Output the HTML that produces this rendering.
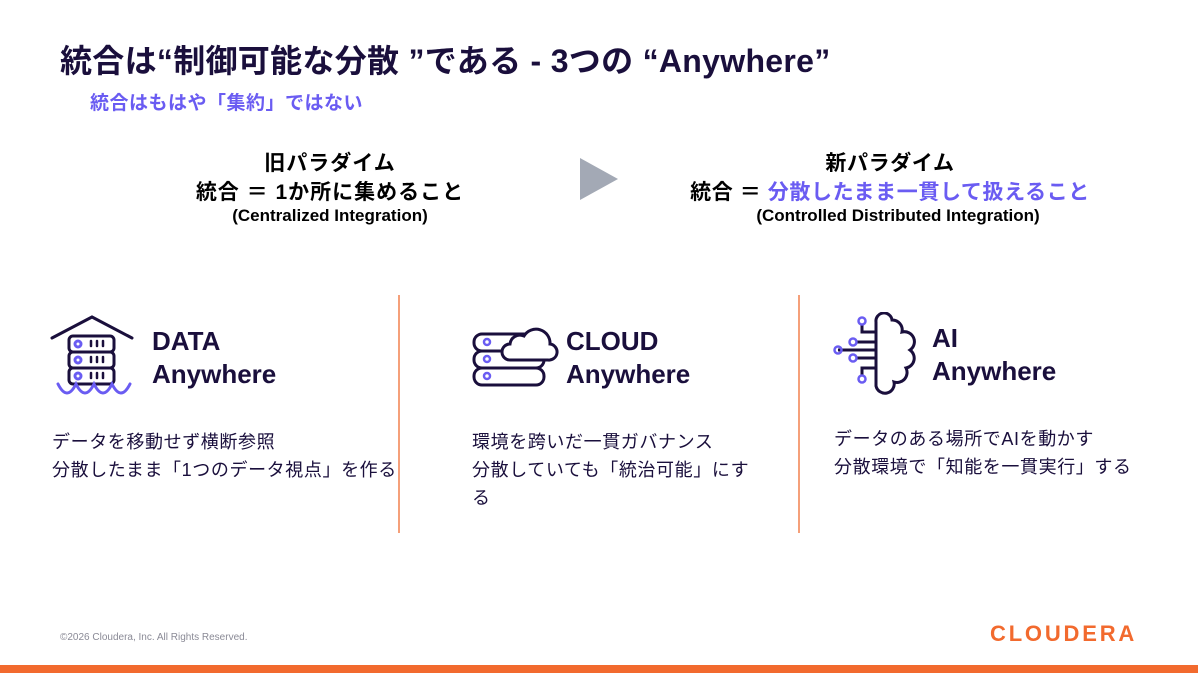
<!DOCTYPE html>
<html><head><meta charset="utf-8"><style>
body{margin:0;width:1198px;height:673px;background:#fff;position:relative;overflow:hidden;font-family:"Liberation Sans","Noto Sans CJK JP",sans-serif;color:#1a0f3c}
.a{position:absolute;white-space:nowrap}
.t{font-size:32px;font-weight:bold;left:60px;top:36px;letter-spacing:0.3px}
.s{font-size:19px;font-weight:bold;color:#6a5cf2;left:90px;top:88px;letter-spacing:0.5px}
.c{text-align:center;font-weight:bold;color:#000}
.h{font-size:26px;font-weight:bold;line-height:33px}
.d{font-size:18px;line-height:28px;color:#1a0f3c;letter-spacing:0.6px}
.v{position:absolute;width:2px;background:#f5a07a;top:295px;height:238px}
</style></head><body>
<div class="a t">統合は“制御可能な分散 ”である - 3つの “Anywhere”</div>
<div class="a s">統合はもはや「集約」ではない</div>
<div class="a c" style="left:130px;width:400px;top:149px;font-size:21px;line-height:29px;letter-spacing:1px">旧パラダイム<br>統合 ＝ 1か所に集めること</div>
<div class="a c" style="left:130px;width:400px;top:206px;font-size:17px">(Centralized Integration)</div>
<svg class="a" style="left:578px;top:156px" width="42" height="46"><polygon points="2,2 40,23 2,44" fill="#a3a9b5"/></svg>
<div class="a c" style="left:640px;width:500px;top:149px;font-size:21px;line-height:29px;letter-spacing:0.6px">新パラダイム<br>統合 ＝ <span style="color:#6a5cf2">分散したまま一貫して扱えること</span></div>
<div class="a c" style="left:648px;width:500px;top:206px;font-size:17px">(Controlled Distributed Integration)</div>
<div class="v" style="left:398px"></div><div class="v" style="left:798px"></div>
<svg class="a" style="left:50px;top:314px" width="85" height="85" fill="none" stroke-width="3" stroke-linecap="round">
<path d="M2,24 L42,3 L82,24" stroke="#1a0f3c"/>
<rect x="19" y="22" width="45" height="16" rx="4" stroke="#1a0f3c"/>
<rect x="19" y="38" width="45" height="16" rx="4" stroke="#1a0f3c"/>
<rect x="19" y="54" width="45" height="16" rx="4" stroke="#1a0f3c"/>
<g stroke="#6a5cf2"><circle cx="28" cy="30" r="3"/><circle cx="28" cy="46" r="3"/><circle cx="28" cy="62" r="3"/></g>
<g stroke="#1a0f3c" stroke-width="2.5"><path d="M41,27v5M47,27v5M53,27v5M41,43v5M47,43v5M53,43v5M41,59v5M47,59v5M53,59v5"/></g>
<path d="M8,70 q9,18 18,0 q9,18 18,0 q9,18 18,0 q9,18 18,0" stroke="#6a5cf2"/>
</svg>
<div class="a h" style="left:152px;top:325px">DATA<br>Anywhere</div>
<svg class="a" style="left:470px;top:318px" width="90" height="75" fill="none" stroke="#1a0f3c" stroke-width="3">
<rect x="4" y="16" width="70" height="17" rx="8"/><rect x="4" y="33" width="70" height="17" rx="8"/><rect x="4" y="50" width="70" height="17" rx="8"/>
<path d="M50,42 h-10 a8,8 0 0 1 0,-16 a10,10 0 0 1 14,-8 a14,14 0 0 1 26,8 a8,8 0 0 1 -2,16z" fill="#fff"/>
<g stroke="#6a5cf2" stroke-width="2.5"><circle cx="17" cy="24" r="3"/><circle cx="17" cy="41" r="3"/><circle cx="17" cy="58" r="3"/></g>
</svg>
<div class="a h" style="left:566px;top:325px">CLOUD<br>Anywhere</div>
<svg class="a" style="left:830px;top:312px" width="95" height="86" fill="none" stroke="#1a0f3c" stroke-width="3">
<path d="M46,10 a8,8 0 0 1 16,-2 a10,10 0 0 1 10,12 a10,10 0 0 1 8,18 a10,10 0 0 1 -4,18 a10,10 0 0 1 -12,14 a9,9 0 0 1 -18,4z"/>
<path d="M46,20 h-14 v-8 M46,30 h-20 M46,38 h-38 M46,46 h-20 M46,56 h-14 v8"/>
<g stroke="#6a5cf2" stroke-width="2.5"><circle cx="32" cy="9" r="3.5"/><circle cx="23" cy="30" r="3.5"/><circle cx="8" cy="38" r="3.5"/><circle cx="23" cy="46" r="3.5"/><circle cx="32" cy="67" r="3.5"/></g>
</svg>
<div class="a h" style="left:932px;top:322px">AI<br>Anywhere</div>
<div class="a d" style="left:52px;top:428px">データを移動せず横断参照<br>分散したまま「1つのデータ視点」を作る</div>
<div class="a d" style="left:472px;top:428px">環境を跨いだ一貫ガバナンス<br>分散していても「統治可能」にす<br>る</div>
<div class="a d" style="left:834px;top:425px">データのある場所でAIを動かす<br>分散環境で「知能を一貫実行」する</div>
<div class="a" style="left:60px;top:632px;font-size:10px;color:#8a8a96">©2026 Cloudera, Inc. All Rights Reserved.</div>
<div class="a" style="left:990px;top:621px;font-size:22px;font-weight:bold;color:#f26a2e;letter-spacing:2.8px">CLOUDERA</div>
<div class="a" style="left:0;top:665px;width:1198px;height:8px;background:#f26a2e"></div>
</body></html>
